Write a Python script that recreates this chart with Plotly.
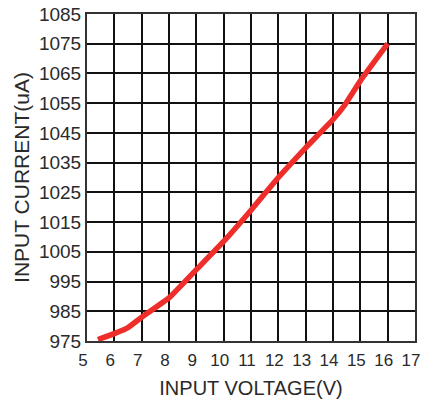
import plotly.graph_objects as go

voltage = [5.4, 6.0, 6.5, 7.0, 8.0, 9.0, 10.0, 11.0, 12.0, 13.0, 14.0, 14.4, 15.0, 16.0]
current = [975.5, 977.5, 979.5, 983, 989.5, 999, 1008.5, 1019, 1030, 1040, 1049.5, 1054, 1062.5, 1075]

x_ticks = list(range(5, 18))
y_ticks = list(range(975, 1086, 10))

fig = go.Figure()
fig.add_trace(go.Scatter(x=voltage, y=current, mode="lines",
                         line=dict(color="#EE2E2A", width=5.5, shape="spline", smoothing=0.3),
                         showlegend=False, hoverinfo="skip"))

fam = "Liberation Sans, Arial, sans-serif"
col = "#2a2a2a"
fig.update_layout(
    width=421, height=404,
    margin=dict(l=87, r=6, t=14, b=63),
    paper_bgcolor="white", plot_bgcolor="white",
    font=dict(family=fam, size=18, color=col),
)
fig.update_xaxes(range=[5, 17], tickvals=x_ticks, ticktext=[str(v) for v in x_ticks],
                 showgrid=True, gridcolor="#111", gridwidth=1.5,
                 showline=True, linecolor="#333", linewidth=2, mirror=True,
                 zeroline=False, ticks="outside", ticklen=3, tickcolor="rgba(0,0,0,0)",
                 ticklabeloverflow="allow", ticklabelshift=-4,
                 automargin=False,
                 tickfont=dict(family=fam, size=17, color=col),
                 title=dict(text="INPUT VOLTAGE(V)", font=dict(family=fam, size=20, color=col), standoff=12))
fig.update_yaxes(range=[975, 1085], tickvals=y_ticks, ticktext=[str(v) for v in y_ticks],
                 showgrid=True, gridcolor="#111", gridwidth=1.5,
                 showline=True, linecolor="#333", linewidth=2, mirror=True,
                 zeroline=False, ticks="", automargin=False,
                 tickfont=dict(family=fam, size=19, color=col),
                 title=dict(text="INPUT CURRENT(uA)", font=dict(family=fam, size=21, color=col), standoff=4))
fig.write_html("out.html", config={"displayModeBar": False},
               post_script="document.body.style.margin='0';document.body.style.overflow='hidden';")
